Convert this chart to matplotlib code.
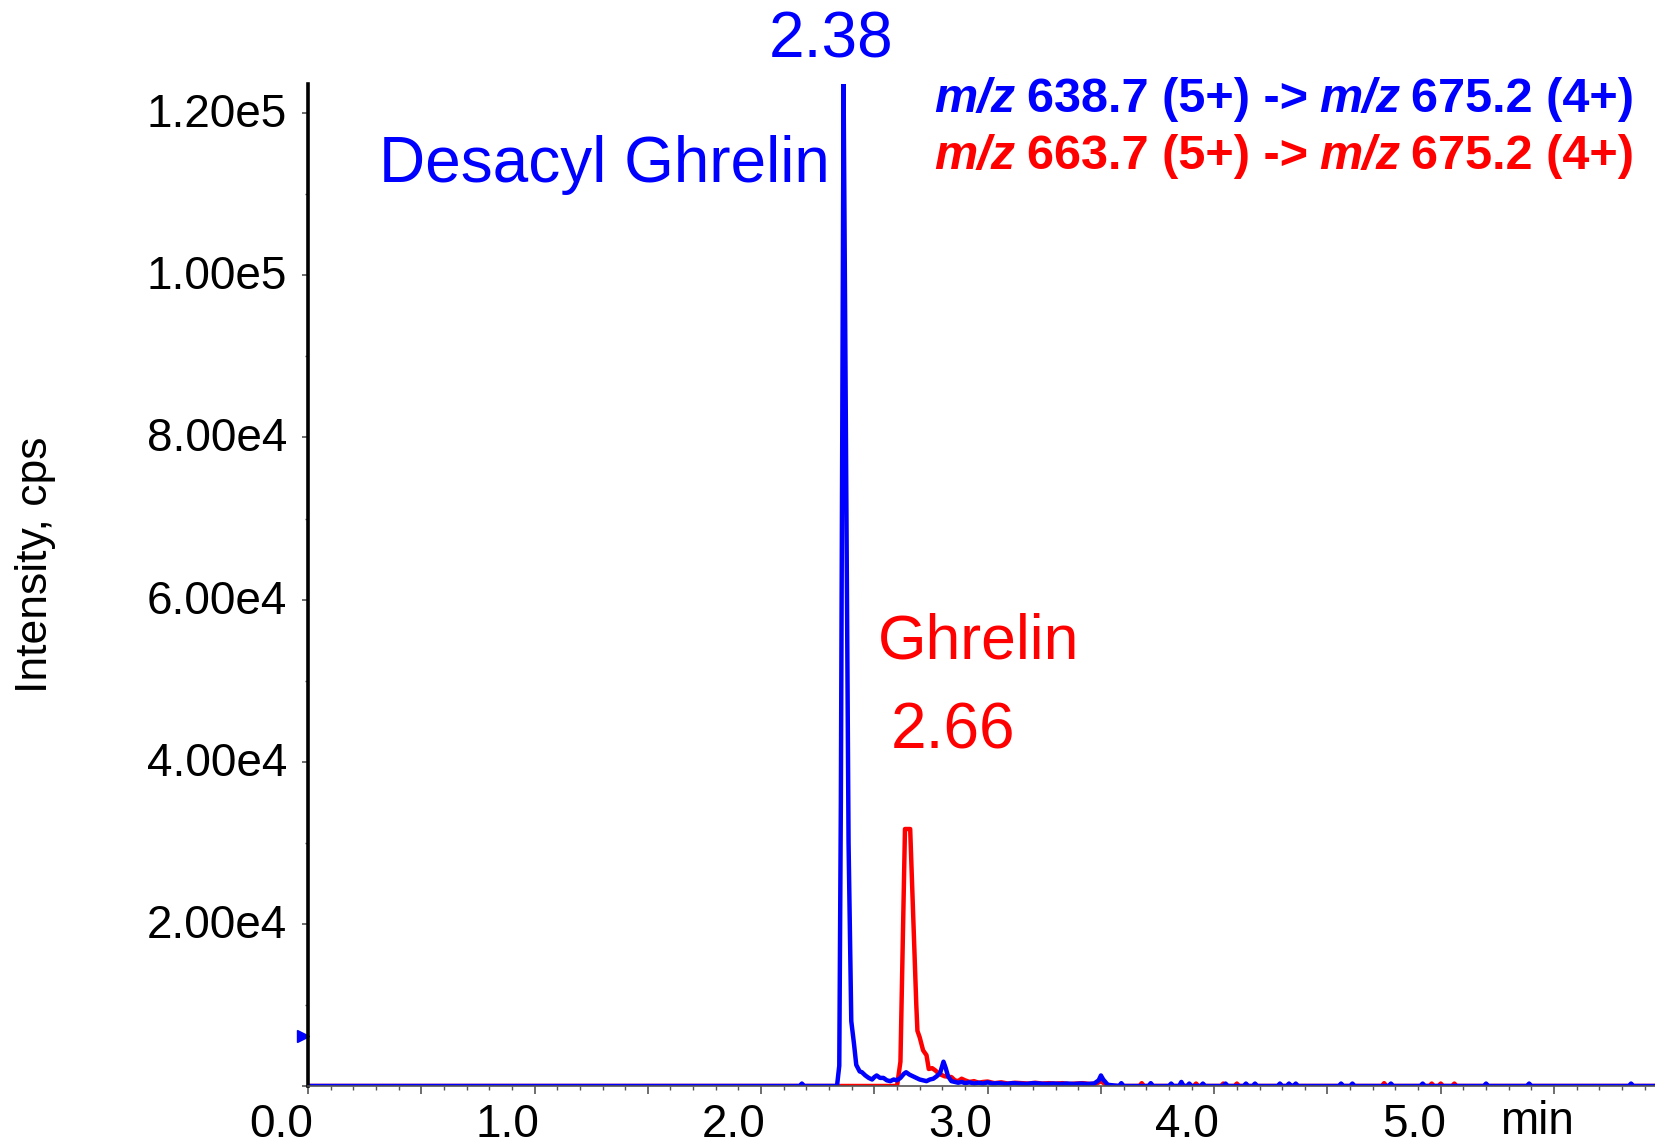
import matplotlib
matplotlib.use("Agg")
import matplotlib.pyplot as plt
from matplotlib.transforms import ScaledTranslation

plt.rcParams['font.family'] = ['Liberation Sans', 'DejaVu Sans']

# Desacyl ghrelin trace, m/z 638.7 -> 675.2 (time in min, intensity in cps)
blue_t = [0.0, 2.17, 2.18, 2.19, 2.335, 2.345, 2.352, 2.364, 2.374, 2.386, 2.398,
          2.41, 2.42, 2.435, 2.445, 2.46, 2.475, 2.49, 2.50, 2.51, 2.525, 2.54,
          2.555, 2.57, 2.585, 2.60, 2.615, 2.63, 2.64, 2.655, 2.67, 2.685, 2.70,
          2.715, 2.73, 2.745, 2.76, 2.775, 2.79, 2.805, 2.815, 2.825, 2.84, 2.855,
          2.87, 2.885, 2.90, 2.92, 2.94, 2.96, 2.98, 3.00, 3.02, 3.05, 3.08, 3.11,
          3.14, 3.17, 3.20, 3.23, 3.26, 3.29, 3.32, 3.35, 3.38, 3.41, 3.44, 3.47,
          3.49, 3.50, 3.51, 3.53, 3.58, 3.59, 3.60, 3.71, 3.72, 3.73, 3.80, 3.81,
          3.82, 3.845, 3.855, 3.865, 3.88, 3.89, 3.90, 3.94, 3.95, 3.96, 4.04, 4.05,
          4.06, 4.13, 4.14, 4.15, 4.17, 4.18, 4.19, 4.28, 4.29, 4.30, 4.32, 4.33,
          4.34, 4.35, 4.36, 4.37, 4.55, 4.56, 4.57, 4.60, 4.61, 4.62, 4.77, 4.78,
          4.79, 4.91, 4.92, 4.93, 5.19, 5.20, 5.21, 5.38, 5.39, 5.40, 5.83, 5.84,
          5.85, 5.95]
blue_y = [0, 0, 300, 0, 0, 2500, 35000, 123600, 82000, 30000, 8000,
          5200, 2600, 1800, 1700, 1300, 1000, 800, 1100, 1300, 1000, 1000,
          700, 600, 800, 700, 1000, 1500, 1700, 1400, 1200, 1000, 800,
          700, 600, 800, 900, 1200, 1600, 3000, 2200, 1200, 600, 500,
          400, 500, 350, 450, 300, 400, 300, 450, 300, 350, 250, 350,
          300, 250, 350, 300, 250, 300, 250, 300, 250, 300, 250, 300,
          700, 1300, 800, 150, 0, 350, 0, 0, 350, 0, 0, 300,
          0, 0, 500, 0, 0, 300, 0, 0, 300, 0, 0, 300,
          0, 0, 300, 0, 0, 300, 0, 0, 300, 0, 0, 300,
          0, 0, 300, 0, 0, 300, 0, 0, 300, 0, 0, 300,
          0, 0, 300, 0, 0, 300, 0, 0, 300, 0, 0, 300,
          0, 0]

# Ghrelin trace, m/z 663.7 -> 675.2
red_t = [0.0, 2.60, 2.615, 2.635, 2.658, 2.685, 2.69, 2.70, 2.715, 2.73, 2.74,
         2.755, 2.77, 2.785, 2.81, 2.84, 2.855, 2.87, 2.885, 2.90, 2.92, 2.94,
         2.96, 2.98, 3.00, 3.03, 3.06, 3.09, 3.12, 3.15, 3.18, 3.21, 3.24, 3.27,
         3.30, 3.33, 3.36, 3.39, 3.42, 3.45, 3.48, 3.50, 3.52, 3.55, 3.67, 3.68,
         3.69, 3.91, 3.92, 3.93, 4.03, 4.04, 4.05, 4.09, 4.10, 4.11, 4.74, 4.75,
         4.76, 4.95, 4.96, 4.97, 4.99, 5.00, 5.01, 5.05, 5.06, 5.07, 5.95]
red_y = [0, 0, 3000, 31700, 31700, 10000, 6800, 6000, 4400, 3800, 2100,
         2200, 1900, 1500, 1200, 1100, 700, 600, 900, 700, 500, 600,
         400, 500, 550, 350, 450, 300, 400, 350, 300, 400, 300, 350,
         300, 350, 250, 300, 350, 250, 300, 600, 200, 0, 0, 350,
         0, 0, 300, 0, 0, 300, 0, 0, 300, 0, 0, 350,
         0, 0, 300, 0, 0, 300, 0, 0, 300, 0, 0]

marker_level = 6200

xtick_labels = ['0.0', '1.0', '2.0', '3.0', '4.0', '5.0']
ytick_values = [20000, 40000, 60000, 80000, 100000, 120000]
ytick_labels = ['2.00e4', '4.00e4', '6.00e4', '8.00e4', '1.00e5', '1.20e5']

blue = '#0000FF'
red = '#FF0000'

fig = plt.figure(figsize=(16.56, 11.45), dpi=100)
ax = fig.add_axes([308 / 1656, 59 / 1145, 1348 / 1656, 1002 / 1145])

ax.plot(red_t, red_y, color=red, lw=3.2, solid_joinstyle='round')
ax.plot(blue_t, blue_y, color=blue, lw=3.2, solid_joinstyle='round')

ax.set_xlim(0, 5.95)
ax.set_ylim(0, 123600)

# axes look
for s in ['top', 'right']:
    ax.spines[s].set_visible(False)
ax.spines['left'].set_linewidth(2.6)
ax.spines['left'].set_color('black')
ax.spines['bottom'].set_linewidth(1.2)
ax.spines['bottom'].set_color('#555555')

major_x = [i * 0.5 for i in range(12)]
ax.set_xticks(major_x)
ax.set_xticklabels([xtick_labels[i // 2] if i % 2 == 0 else '' for i in range(12)])
ax.set_xticks([i * 0.1 for i in range(60)], minor=True)
ax.tick_params(axis='x', which='major', length=6, width=1.2, color='#555555',
               labelsize=33, pad=6)
ax.tick_params(axis='x', which='minor', length=3, width=1.0, color='#555555')
for lab in ax.get_xticklabels():
    lab.set_transform(lab.get_transform() + ScaledTranslation(-0.27, 0, fig.dpi_scale_trans))

ax.set_yticks([0] + ytick_values)
ax.set_yticklabels([''] + ytick_labels)
ax.set_yticks([10000 + 20000 * i for i in range(6)], minor=True)
ax.tick_params(axis='y', which='major', length=4, width=1.2, color='#555555',
               labelsize=33, pad=11)
ax.tick_params(axis='y', which='minor', length=2.5, width=1.0, color='#555555')
for lab in ax.get_yticklabels():
    lab.set_transform(lab.get_transform() + ScaledTranslation(0, 0.03, fig.dpi_scale_trans))

ax.text(0.912, -0.036, 'min', transform=ax.transAxes, fontsize=33,
        ha='center', va='center')
fig.text(36 / 1656, 1 - 565 / 1145, 'Intensity, cps', rotation=90,
         fontsize=32, ha='center', va='center')

# left threshold marker
ax.plot([0], [marker_level], marker='>', color=blue, markersize=9, clip_on=False,
        transform=ax.transData + ScaledTranslation(-0.045, 0, fig.dpi_scale_trans))

# peak annotations
ax.text(2.309, 129000, '2.38', color=blue, fontsize=46, ha='center', va='center',
        clip_on=False)
ax.text(1.309, 113600, 'Desacyl Ghrelin', color=blue, fontsize=46, ha='center',
        va='center')
ax.text(2.958, 54800, 'Ghrelin', color=red, fontsize=45, ha='center', va='center')
ax.text(2.848, 43700, '2.66', color=red, fontsize=46, ha='center', va='center')


# transition legend, built right to left so italic m/z pieces sit inline
def mrm_line(y, precursor, color):
    fs = 35
    gap = 8
    p4 = fig.text(1634 / 1656, y, '675.2 (4+)', color=color, fontsize=fs,
                  fontweight='bold', ha='right', va='baseline')
    p3 = ax.annotate('m/z', xy=(0, 0), xycoords=p4, xytext=(-gap, 0),
                     textcoords='offset points', color=color, fontsize=fs,
                     fontweight='bold', fontstyle='italic', ha='right', va='bottom')
    p2 = ax.annotate(precursor + ' (5+) ->', xy=(0, 0), xycoords=p3, xytext=(-gap, 0),
                     textcoords='offset points', color=color, fontsize=fs,
                     fontweight='bold', ha='right', va='bottom')
    ax.annotate('m/z', xy=(0, 0), xycoords=p2, xytext=(-gap, 0),
                textcoords='offset points', color=color, fontsize=fs,
                fontweight='bold', fontstyle='italic', ha='right', va='bottom')


mrm_line(1 - 112 / 1145, '638.7', blue)
mrm_line(1 - 169 / 1145, '663.7', red)

fig.savefig('out.png', dpi=100)
